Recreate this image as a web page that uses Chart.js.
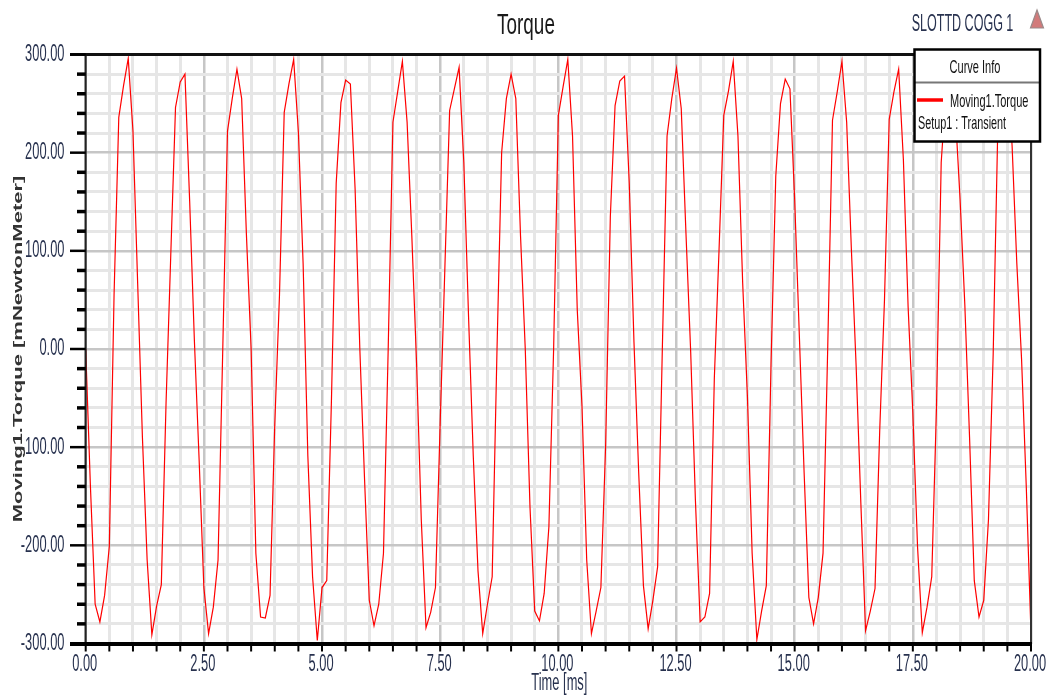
<!DOCTYPE html>
<html>
<head>
<meta charset="utf-8">
<title>Torque</title>
<script src="https://cdn.jsdelivr.net/npm/chart.js@4.4.1/dist/chart.umd.min.js"></script>
<style>
  html, body { margin: 0; padding: 0; background: #fff; overflow: hidden; }
  canvas { display: block; }
</style>
</head>
<body>
<canvas id="torqueChart" width="1049" height="697"></canvas>
<script>
// Transient torque samples, one every 0.1 ms from 0 to 20 ms [mNewtonMeter]
const timeStepMs = 0.1;
const torqueMilliNm = [
    0, -140, -260, -278, -251, -201, 55, 236, 268, 296,
    222, 66, -90, -215, -291, -262, -240, -55, 96, 246,
    272, 280, 150, 8, -113, -243, -290, -263, -215, 0,
    222, 255, 285, 255, 117, 0, -208, -273, -274, -251,
    -77, 55, 241, 270, 295, 221, 87, -109, -232, -297,
    -243, -236, -51, 169, 251, 274, 270, 163, 0, -133,
    -256, -282, -260, -208, 0, 231, 262, 293, 231, 115,
    -14, -174, -284, -268, -243, -75, 84, 243, 265, 287,
    190, 33, -109, -226, -290, -260, -232, -5, 200, 255,
    280, 255, 115, 0, -161, -267, -277, -249, -181, 0,
    238, 267, 295, 217, 40, -58, -215, -290, -267, -243,
    -99, 135, 248, 273, 278, 169, 7, -126, -241, -285,
    -256, -222, 0, 217, 255, 286, 245, 118, -3, -154,
    -278, -273, -249, -30, 101, 238, 263, 293, 217, 67,
    -48, -208, -296, -267, -241, -15, 176, 250, 275, 265,
    152, 12, -126, -253, -280, -253, -208, 3, 233, 262,
    293, 231, 101, -17, -157, -287, -267, -244, -82, 50,
    234, 262, 285, 193, 43, -65, -202, -289, -263, -232,
    -60, 190, 262, 290, 240, 152, 45, -90, -236, -273,
    -256, -174, -5, 231, 270, 290, 207, 87, -10, -140,
    -290
];

// Axis ranges and grid steps
const xRange = [0, 20];
const yRange = [-300, 300];
const xMinorStep = 0.5;
const xMajorStep = 2.5;
const yMinorStep = 20;
const yMajorStep = 100;

const chartTitle = 'Torque';
const designName = 'SLOTTD COGG 1';
const xTitle = 'Time [ms]';
const yTitle = 'Moving1.Torque [mNewtonMeter]';
const legendHeader = 'Curve Info';
const curveName = 'Moving1.Torque';
const setupName = 'Setup1 : Transient';

const FONT = '"Liberation Sans", Arial, sans-serif';
const LABEL_COLOR = '#28324f';
const MINOR_GRID = '#e6e6e6';
const MAJOR_GRID = '#c6c6c6';

const points = torqueMilliNm.map((v, i) => ({ x: +(i * timeStepMs).toFixed(1), y: v }));

function isMajor(value, step) {
    const r = value / step;
    return Math.abs(r - Math.round(r)) < 1e-6;
}

// Narrow text: the labels are drawn horizontally condensed
function drawText(ctx, text, x, y, opts = {}) {
    const { size = 23, weight = 'normal', sx = 0.56, align = 'center', color = LABEL_COLOR } = opts;
    ctx.save();
    ctx.translate(x, y);
    ctx.scale(sx, 1);
    ctx.font = `${weight} ${size}px ${FONT}`;
    ctx.textAlign = align;
    ctx.textBaseline = 'middle';
    ctx.fillStyle = color;
    ctx.fillText(text, 0, 0);
    ctx.restore();
}

function line(ctx, x1, y1, x2, y2, width, color) {
    ctx.beginPath();
    ctx.lineWidth = width;
    ctx.strokeStyle = color;
    ctx.moveTo(x1, y1);
    ctx.lineTo(x2, y2);
    ctx.stroke();
}

// Frame, tick marks, labels, titles and the curve info box
const plotDecor = {
    id: 'plotDecor',
    afterDraw(chart) {
        const { ctx, chartArea: a, scales: { x, y } } = chart;
        ctx.save();

        // borders
        line(ctx, a.left, a.top, a.left, a.bottom, 2, '#222');
        line(ctx, a.right, a.top, a.right, a.bottom, 2, '#333');
        line(ctx, 70, a.top, a.right, a.top, 3, '#111');
        line(ctx, 70, a.bottom + 0.5, a.right + 1, a.bottom + 0.5, 4, '#000');

        // y tick marks and labels
        y.ticks.forEach(t => {
            const py = y.getPixelForValue(t.value);
            if (isMajor(t.value, yMajorStep)) {
                line(ctx, 70, py, a.left, py, 2.5, '#000');
                drawText(ctx, t.value.toFixed(2), 64.5, py, { align: 'right' });
            } else {
                line(ctx, 77, py, a.left, py, 3.5, '#000');
            }
        });

        // x tick marks and labels
        x.ticks.forEach(t => {
            const px = x.getPixelForValue(t.value);
            line(ctx, px, a.bottom + 2, px, a.bottom + 8, 2, '#000');
            if (isMajor(t.value, xMajorStep)) {
                drawText(ctx, t.value.toFixed(2), px - 1, 665);
            }
        });

        // axis titles
        drawText(ctx, xTitle, (a.left + a.right) / 2 + 1, 684);
        ctx.save();
        ctx.translate(18, (a.top + a.bottom) / 2);
        ctx.rotate(-Math.PI / 2);
        ctx.scale(1, 0.6);
        ctx.font = `bold 22px ${FONT}`;
        ctx.textAlign = 'center';
        ctx.textBaseline = 'middle';
        ctx.fillStyle = '#333';
        ctx.fillText(yTitle, 0, 0);
        ctx.restore();

        // chart title and design name
        drawText(ctx, chartTitle, 526, 26, { size: 30, sx: 0.63, color: '#1a1a1a' });
        drawText(ctx, designName, 962.5, 25, { size: 23, sx: 0.545 });

        // small warning triangle
        ctx.beginPath();
        ctx.moveTo(1037, 10);
        ctx.lineTo(1043.5, 28);
        ctx.lineTo(1030.5, 28);
        ctx.closePath();
        ctx.fillStyle = '#d27a7a';
        ctx.fill();
        ctx.lineWidth = 1.2;
        ctx.strokeStyle = '#9a8a8a';
        ctx.stroke();

        // curve info box
        const bx = 914.5, by = 49.5, bw = 125.5, bh = 92;
        ctx.fillStyle = '#fff';
        ctx.fillRect(bx, by, bw, bh);
        line(ctx, bx, by + 33, bx + bw, by + 33, 2, '#777');
        ctx.lineWidth = 2.5;
        ctx.strokeStyle = '#000';
        ctx.strokeRect(bx, by, bw, bh);
        drawText(ctx, legendHeader, 975, 68, { size: 19, sx: 0.58, color: '#111' });
        line(ctx, 917, 100, 943, 100, 3.5, '#ff0000');
        drawText(ctx, curveName, 950, 101.5, { size: 19, sx: 0.58, align: 'left', color: '#111' });
        drawText(ctx, setupName, 918, 124, { size: 19, sx: 0.57, align: 'left', color: '#111' });

        ctx.restore();
    }
};

const gridStyle = (step, minorWidth, majorWidth) => ({
    color: c => isMajor(c.tick.value, step) ? MAJOR_GRID : MINOR_GRID,
    lineWidth: c => isMajor(c.tick.value, step) ? majorWidth : minorWidth,
    drawTicks: false
});

new Chart(document.getElementById('torqueChart').getContext('2d'), {
    type: 'line',
    data: {
        datasets: [{
            label: curveName,
            data: points,
            borderColor: '#ff0000',
            borderWidth: 1.2,
            pointRadius: 0,
            tension: 0,
            fill: false
        }]
    },
    options: {
        responsive: false,
        animation: false,
        layout: { padding: { top: 54.5, right: 18, bottom: 0, left: 0 } },
        plugins: {
            legend: { display: false },
            title: { display: false },
            tooltip: { enabled: false }
        },
        scales: {
            x: {
                type: 'linear',
                min: xRange[0],
                max: xRange[1],
                ticks: { stepSize: xMinorStep, display: false },
                grid: gridStyle(xMajorStep, 3, 2.5),
                border: { display: false },
                afterFit: s => { s.height = 53.5; }
            },
            y: {
                min: yRange[0],
                max: yRange[1],
                ticks: { stepSize: yMinorStep, display: false },
                grid: gridStyle(yMajorStep, 3, 2.5),
                border: { display: false },
                afterFit: s => { s.width = 85.7; }
            }
        }
    },
    plugins: [plotDecor]
});
</script>
</body>
</html>
